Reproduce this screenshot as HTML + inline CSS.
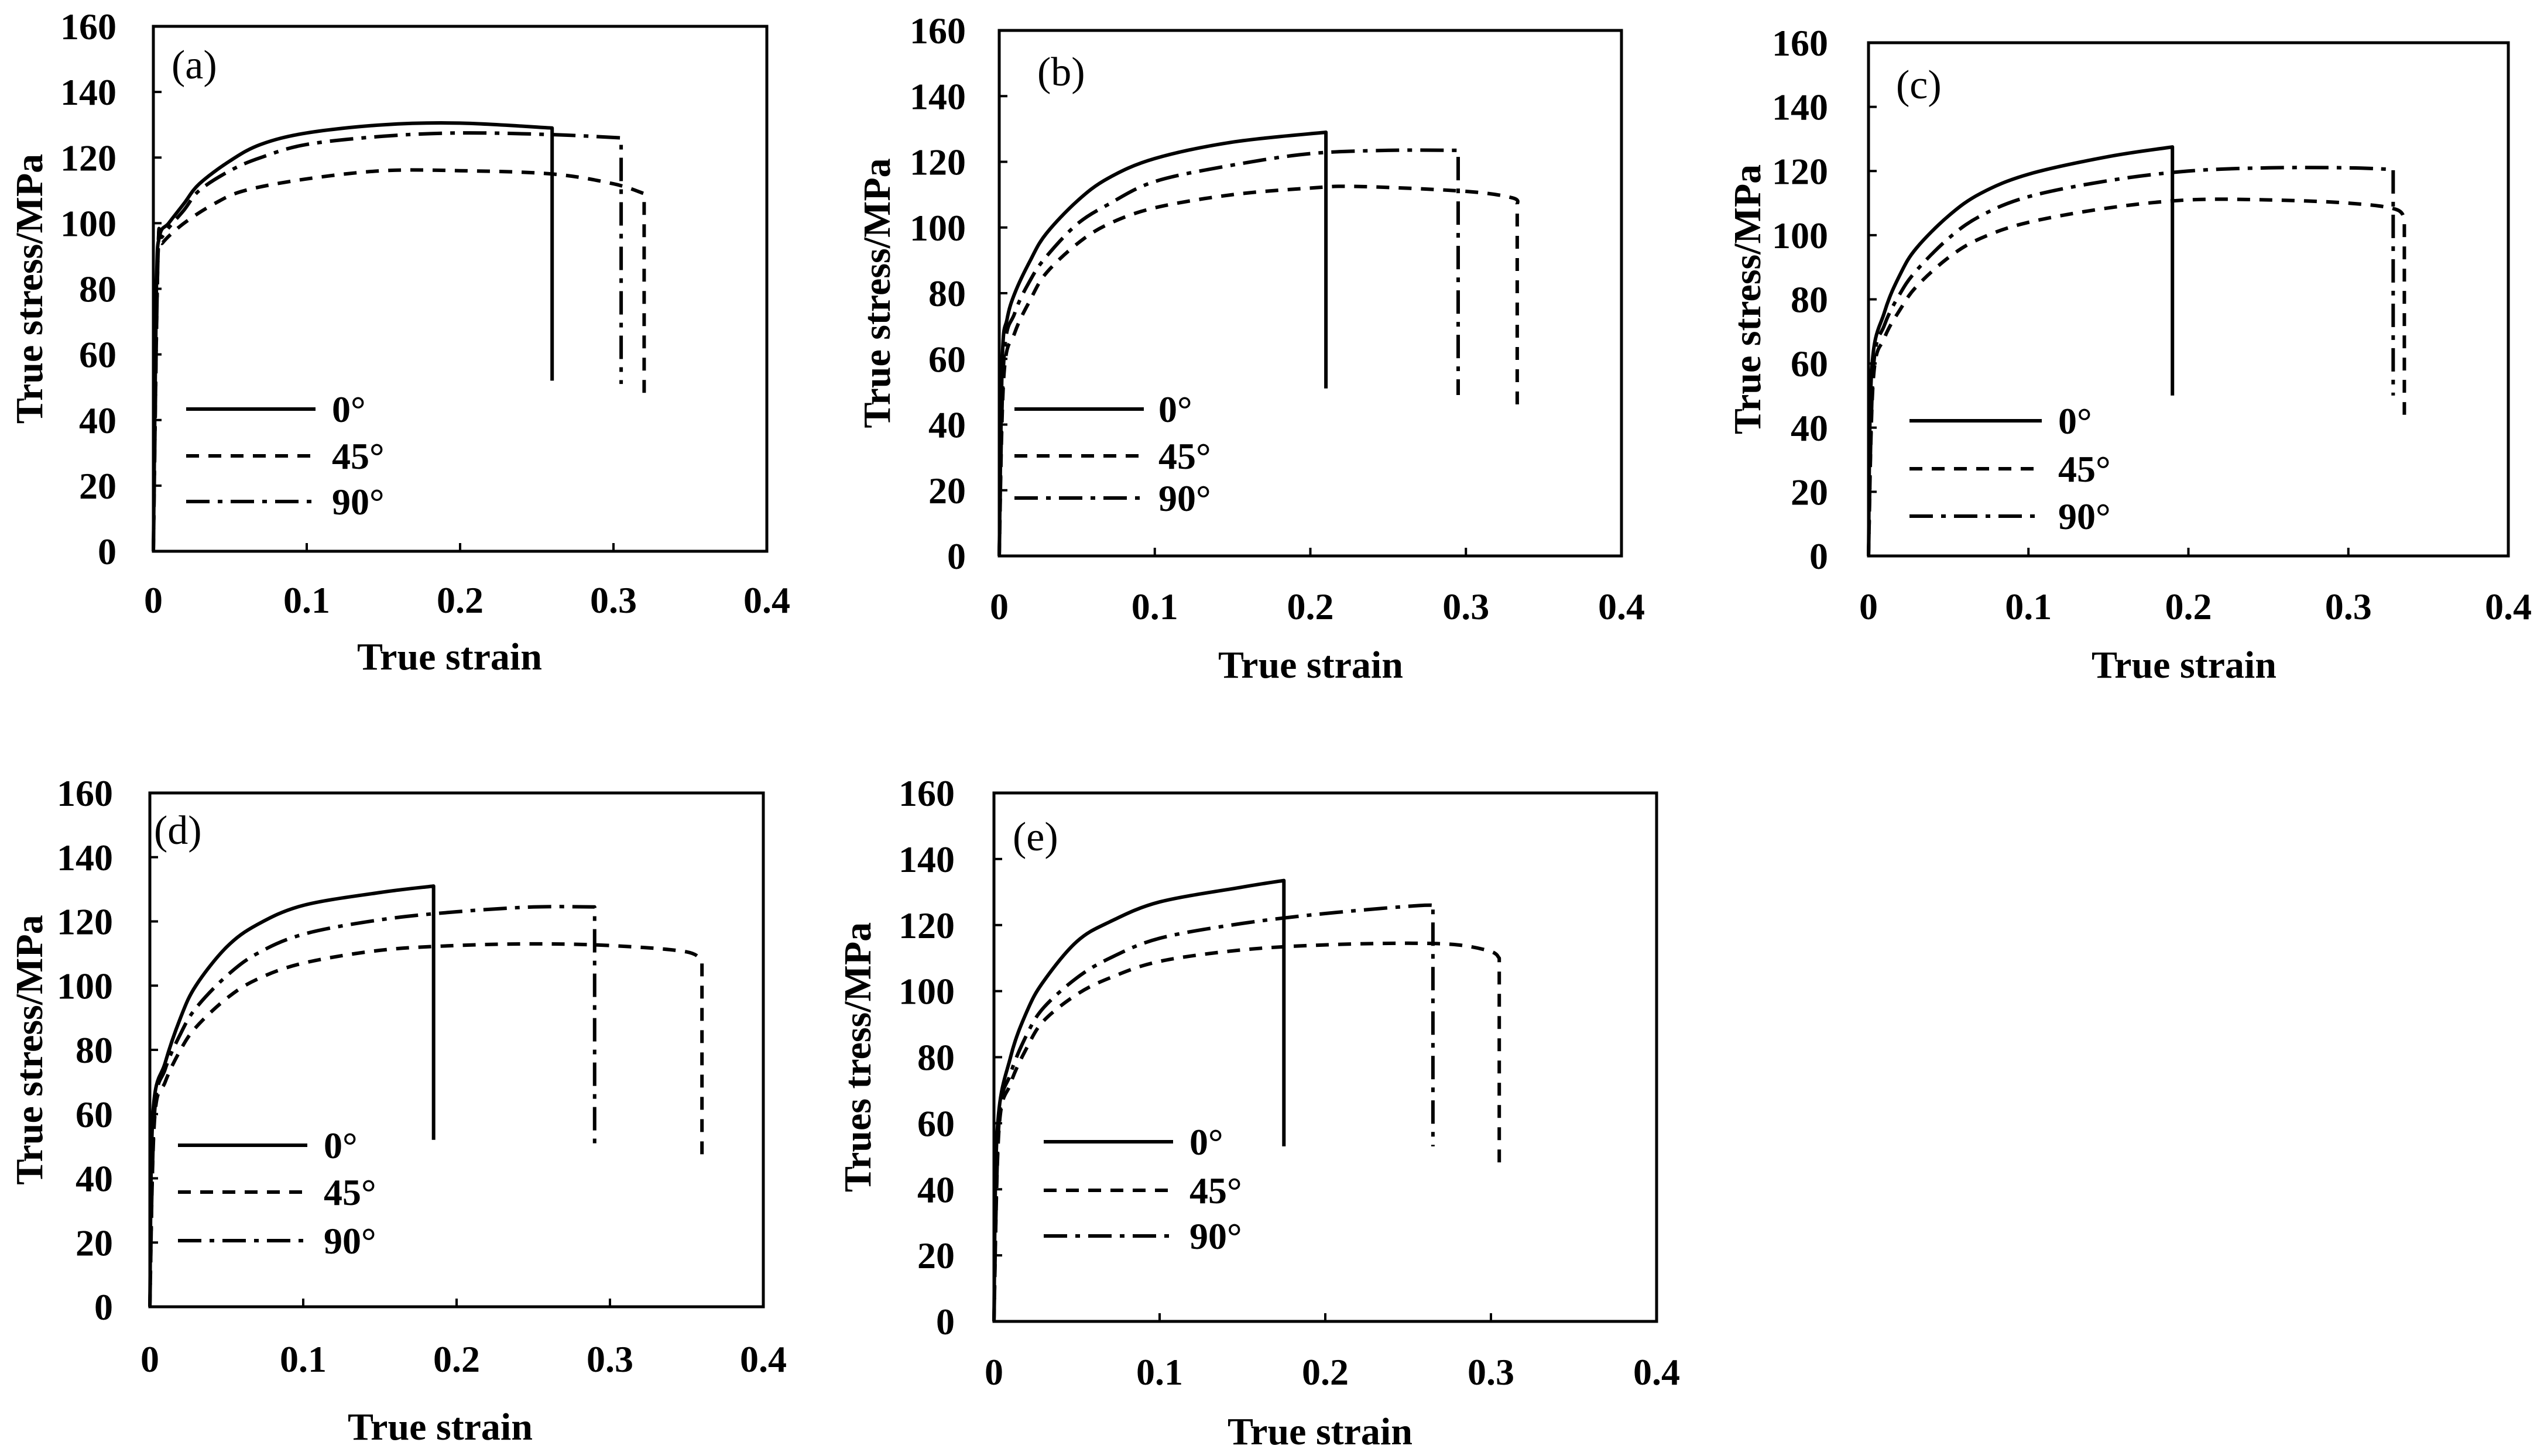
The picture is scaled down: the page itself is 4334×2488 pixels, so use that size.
<!DOCTYPE html>
<html><head><meta charset="utf-8"><style>
html,body{margin:0;padding:0;background:#fff}
svg{display:block}
text{font-family:"Liberation Serif","DejaVu Serif",serif;fill:#000}
</style></head><body>
<svg id="fig" width="4334" height="2488" viewBox="0 0 4334 2488" xmlns="http://www.w3.org/2000/svg"></svg>
<script>
const xTicks=[0,0.1,0.2,0.3,0.4];
const xTickLabels=["0","0.1","0.2","0.3","0.4"];
const yTicks=[0,20,40,60,80,100,120,140,160];
const yTickLabels=["0","20","40","60","80","100","120","140","160"];
const seriesNames=["0°","45°","90°"];
const a0=[[0,0],[0.002,80],[0.004,96],[0.01,100],[0.02,106],[0.03,112],[0.05,119],[0.07,124],[0.1,127.5],[0.15,130],[0.2,130.5],[0.26,129],[0.26,52]];
const a45=[[0,0],[0.003,90],[0.006,94],[0.02,100],[0.04,106],[0.06,110],[0.1,113.5],[0.15,116],[0.2,116],[0.26,115],[0.3,112],[0.32,109],[0.32,46]];
const a90=[[0,0],[0.003,90],[0.006,96],[0.02,104],[0.03,110],[0.05,116],[0.07,120],[0.1,124],[0.15,126.5],[0.2,127.5],[0.26,127],[0.305,126],[0.305,51]];
const b0=[[0,0],[0.002,60],[0.005,72],[0.01,80],[0.02,90],[0.03,98],[0.05,108],[0.07,115],[0.1,121],[0.15,126],[0.21,129],[0.21,51]];
const b45=[[0,0],[0.003,55],[0.01,68],[0.02,78],[0.03,86],[0.05,95],[0.07,101],[0.1,106],[0.15,110],[0.2,112],[0.23,112.5],[0.3,111],[0.33,109],[0.333,107],[0.333,44]];
const b90=[[0,0],[0.003,60],[0.01,74],[0.02,84],[0.03,91],[0.05,101],[0.07,107],[0.1,114],[0.15,119],[0.2,122.5],[0.25,123.5],[0.295,123.5],[0.295,49]];
const c0=[[0,0],[0.002,58],[0.01,76],[0.02,88],[0.03,96],[0.05,106],[0.07,113],[0.1,119],[0.15,124.5],[0.19,127.5],[0.19,50]];
const c45=[[0,0],[0.003,55],[0.01,68],[0.02,77],[0.03,84],[0.05,93],[0.07,99],[0.1,104],[0.15,108.5],[0.2,111],[0.25,111],[0.3,110],[0.33,108],[0.335,104],[0.335,44]];
const c90=[[0,0],[0.003,58],[0.01,72],[0.02,82],[0.03,89],[0.05,99],[0.07,106],[0.1,112],[0.15,117],[0.2,120],[0.25,121],[0.3,121],[0.328,120.5],[0.328,50]];
const d0=[[0,0],[0.002,60],[0.01,76],[0.02,90],[0.03,100],[0.05,112],[0.07,119],[0.1,125],[0.15,129],[0.185,131],[0.185,52]];
const d45=[[0,0],[0.003,58],[0.01,70],[0.02,80],[0.03,87],[0.05,96],[0.07,102],[0.1,107],[0.15,111],[0.2,112.5],[0.25,113],[0.3,112.5],[0.35,110.5],[0.36,107],[0.36,47]];
const d90=[[0,0],[0.003,60],[0.01,74],[0.02,85],[0.03,93],[0.05,103],[0.07,110],[0.1,116],[0.15,120.5],[0.2,123],[0.25,124.5],[0.29,124.5],[0.29,50]];
const e0=[[0,0],[0.002,58],[0.01,80],[0.02,94],[0.03,103],[0.05,115],[0.07,121],[0.1,127],[0.15,131.5],[0.175,133.5],[0.175,53]];
const e45=[[0,0],[0.003,58],[0.01,72],[0.02,83],[0.03,91],[0.05,99],[0.07,104],[0.1,109],[0.15,112.5],[0.2,114],[0.25,114.5],[0.28,114],[0.3,112],[0.305,110],[0.305,47]];
const e90=[[0,0],[0.003,60],[0.01,75],[0.02,87],[0.03,95],[0.05,104],[0.07,110],[0.1,116],[0.15,120.5],[0.2,123.5],[0.26,126],[0.265,125],[0.265,53]];

const NS="http://www.w3.org/2000/svg";
const FONT='"Liberation Serif","DejaVu Serif",serif';
const fig=document.getElementById('fig');
function mk(tag,attrs,parent){const el=document.createElementNS(NS,tag);for(const k in attrs)el.setAttribute(k,attrs[k]);parent.appendChild(el);return el;}
function smooth(P){
 // Catmull-Rom through all points except the final vertical drop
 const n=P.length;let d='M'+P[0][0].toFixed(1)+' '+P[0][1].toFixed(1);
 for(let i=0;i<n-2;i++){
  const p0=P[Math.max(i-1,0)],p1=P[i],p2=P[i+1],p3=P[Math.min(i+2,n-2)];
  const c1x=p1[0]+(p2[0]-p0[0])/6,c1y=p1[1]+(p2[1]-p0[1])/6;
  const c2x=p2[0]-(p3[0]-p1[0])/6,c2y=p2[1]-(p3[1]-p1[1])/6;
  d+=` C${c1x.toFixed(1)} ${c1y.toFixed(1)} ${c2x.toFixed(1)} ${c2y.toFixed(1)} ${p2[0].toFixed(1)} ${p2[1].toFixed(1)}`;
 }
 d+=` L${P[n-1][0].toFixed(1)} ${P[n-1][1].toFixed(1)}`;
 return d;
}
const dashes=["none","22,16","40,14,8,14"];
const panels=[
 {id:"a",L:262,R:1310,T:45,B:942,data:[a0,a45,a90],lab:[293,110],xt:[768,1122],yt:50,ytl:199,xly:1025,yTitle:"True stress/MPa",leg:[318,539,567,[699,779,857]]},
 {id:"b",L:1707,R:2770,T:52,B:950,data:[b0,b45,b90],lab:[1772,122],xt:[2239,1136],yt:1498,ytl:1650,xly:1036,yTitle:"True stress/MPa",leg:[1733,1954,1979,[699,779,851]]},
 {id:"c",L:3192,R:4285,T:73,B:950,data:[c0,c45,c90],lab:[3239,144],xt:[3731,1136],yt:2985,ytl:3123,xly:1036,yTitle:"True stress/MPa",leg:[3262,3488,3516,[719,801,882]]},
 {id:"d",L:256,R:1304,T:1355,B:2233,data:[d0,d45,d90],lab:[263,1418],xt:[752,2438],yt:50,ytl:193,xly:2322,yTitle:"True stress/MPa",leg:[304,525,553,[1957,2037,2120]]},
 {id:"e",L:1698,R:2830,T:1355,B:2258,data:[e0,e45,e90],lab:[1730,1429],xt:[2255,2446],yt:1465,ytl:1631,xly:2344,yTitle:"Trues tress/MPa",leg:[1783,2004,2032,[1951,2034,2112]]}
];
panels.forEach(p=>{
 const g=mk('g',{},fig);
 
 
 const sx=v=>p.L+(v-0)/(0.4-0)*(p.R-p.L);
 const sy=v=>p.B-(v-0)/(160-0)*(p.B-p.T);
 const box=mk('rect',{x:p.L,y:p.T,width:p.R-p.L,height:p.B-p.T,fill:'none',stroke:'#000','stroke-width':5},g);
 
 
 xTicks.forEach((t,i)=>{
  if(i>0&&i<xTicks.length-1){const tk=mk('line',{x1:sx(t),x2:sx(t),y1:p.B,y2:p.B-14,stroke:'#000','stroke-width':4},g);
  
  }
  const tx=mk('text',{x:sx(t),y:p.xly+22,'font-size':64,'font-weight':'bold','text-anchor':'middle','font-family':FONT},g);
  tx.textContent=xTickLabels[i];
  
  
 });
 yTicks.forEach((t,i)=>{
  const tk=mk('line',{x1:p.L,x2:p.L+14,y1:sy(t),y2:sy(t),stroke:'#000','stroke-width':4},g);
  
  
  const tx=mk('text',{x:p.ytl,y:sy(t)+22,'font-size':64,'font-weight':'bold','text-anchor':'end','font-family':FONT},g);
  tx.textContent=yTickLabels[i];
  
  
 });
 const xt=mk('text',{x:p.xt[0],y:p.xt[1]+22,'font-size':66,'font-weight':'bold','text-anchor':'middle','font-family':FONT},g);
 xt.textContent="True strain";
 
 
 const cy=(p.T+p.B)/2;
 const yt=mk('text',{x:p.yt,y:cy,'font-size':66,'font-weight':'bold','text-anchor':'middle','font-family':FONT,transform:`rotate(-90 ${p.yt} ${cy}) translate(0 22)`},g);
 yt.textContent=p.yTitle;
 
 
 const lb=mk('text',{x:p.lab[0],y:p.lab[1]+24,'font-size':70,'font-family':FONT},g);
 lb.textContent="("+p.id+")";
 
 
 p.data.forEach((s,k)=>{
  const P=s.map(pt=>[sx(pt[0]),sy(pt[1])]);
  const path=mk('path',{d:smooth(P),fill:'none',stroke:'#000','stroke-width':6,'stroke-dasharray':dashes[k],'stroke-linejoin':'round'},g);
  
  
  const ly=p.leg[3][k];
  const ll=mk('line',{x1:p.leg[0],x2:p.leg[1],y1:ly,y2:ly,stroke:'#000','stroke-width':6,'stroke-dasharray':dashes[k]},g);
  
  
  const lt=mk('text',{x:p.leg[2],y:ly+22,'font-size':64,'font-weight':'bold','font-family':FONT},g);
  lt.textContent=seriesNames[k];
  
  
 });
});
</script>
</body></html>
